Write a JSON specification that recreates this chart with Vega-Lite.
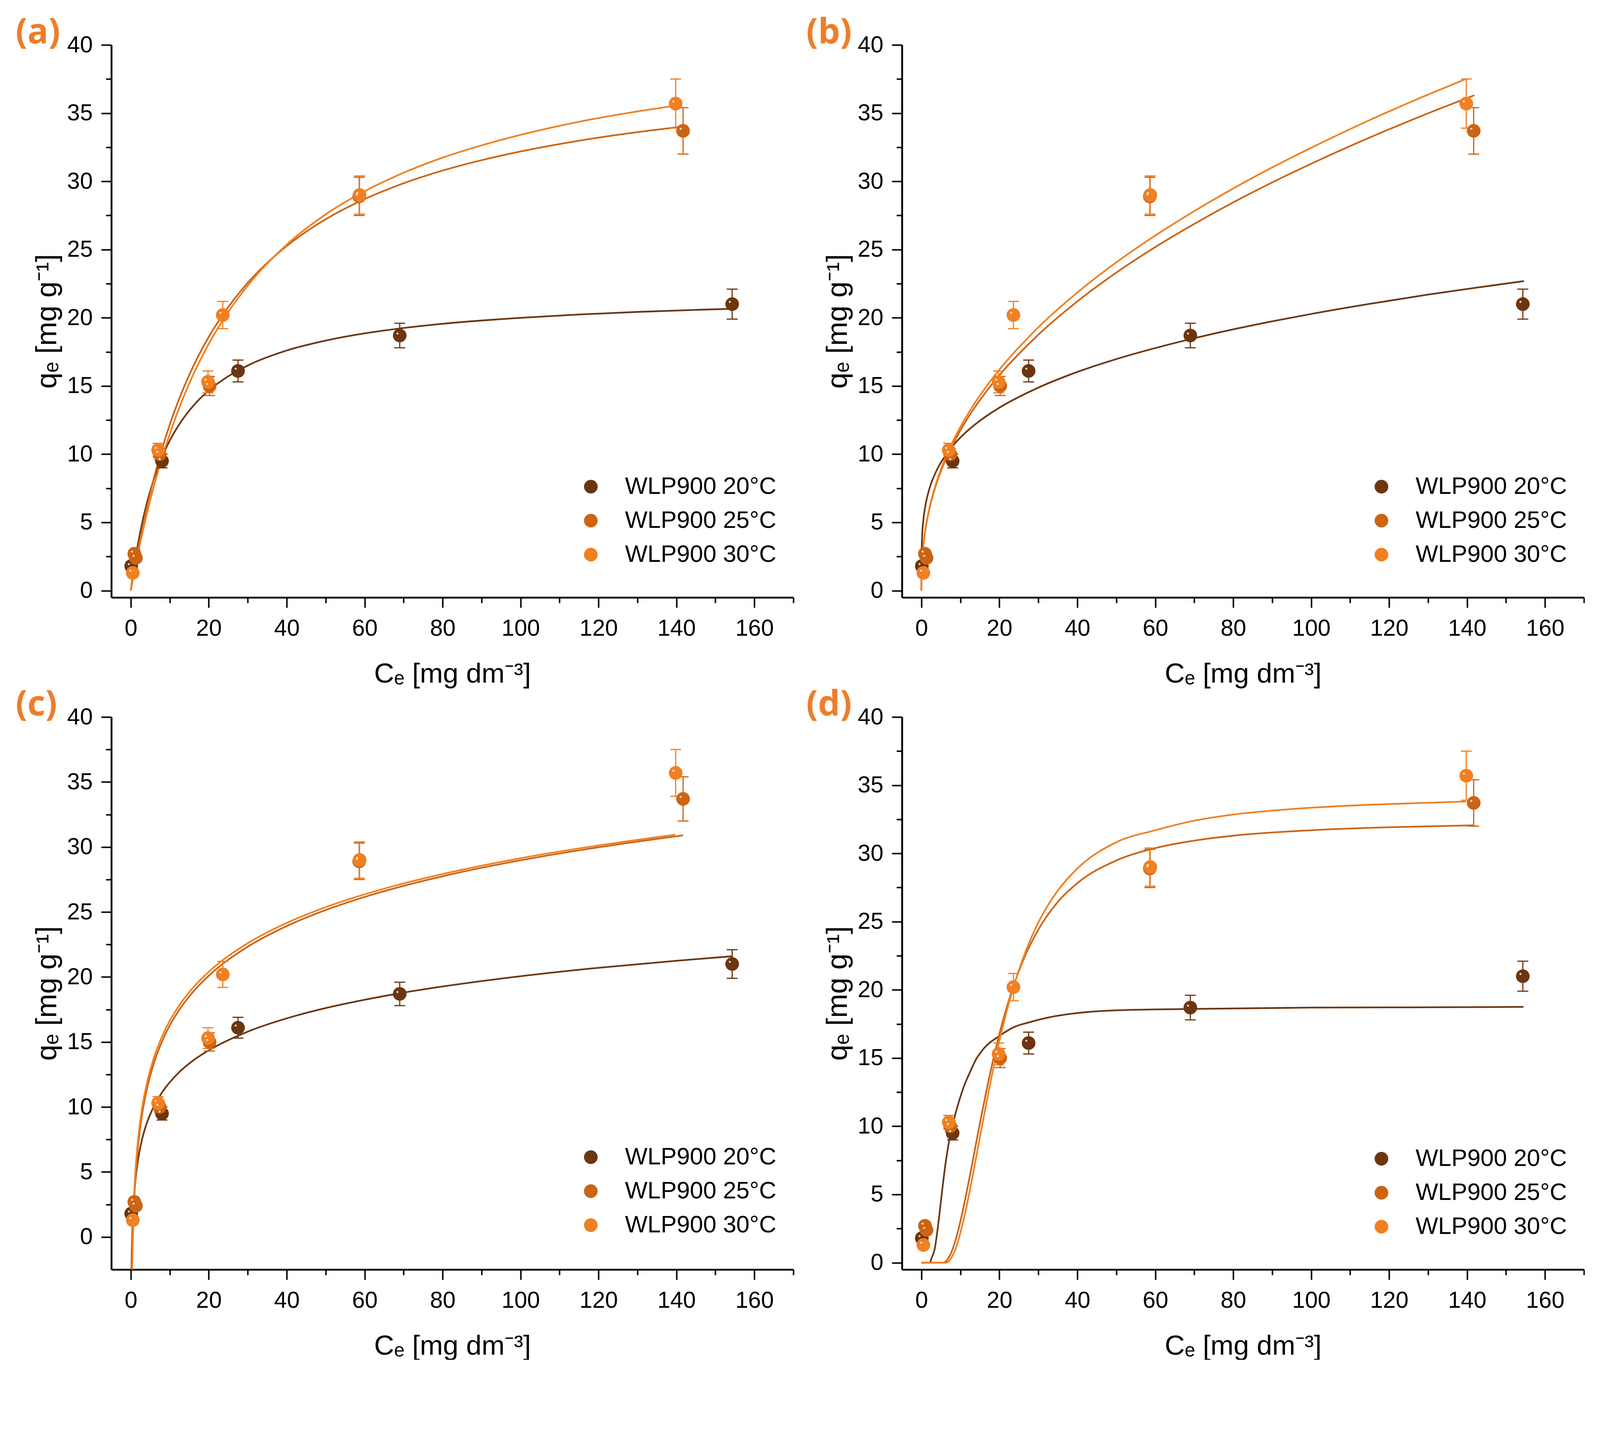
{
  "$schema": "https://vega.github.io/schema/vega-lite/v6.json",
  "background": "white",
  "padding": {"left": 40, "top": 40, "right": 0, "bottom": 0},
  "autosize": {"type": "pad"},
  "datasets": {
    "pts": [
      {"s": "20", "x": 0.1, "q": 1.8, "lo": 1.5, "hi": 2.1},
      {"s": "20", "x": 8.0, "q": 9.5, "lo": 9.0, "hi": 10.0},
      {"s": "20", "x": 27.5, "q": 16.1, "lo": 15.3, "hi": 16.9},
      {"s": "20", "x": 69.0, "q": 18.7, "lo": 17.8, "hi": 19.6},
      {"s": "20", "x": 154.3, "q": 21.0, "lo": 19.9, "hi": 22.1},
      {"s": "25", "x": 0.9, "q": 2.7, "lo": 2.4, "hi": 3.0},
      {"s": "25", "x": 1.3, "q": 2.4, "lo": 2.1, "hi": 2.7},
      {"s": "25", "x": 7.4, "q": 10.0, "lo": 9.6, "hi": 10.4},
      {"s": "25", "x": 20.2, "q": 15.0, "lo": 14.3, "hi": 15.7},
      {"s": "25", "x": 58.6, "q": 28.9, "lo": 27.5, "hi": 30.3},
      {"s": "25", "x": 141.7, "q": 33.7, "lo": 32.0, "hi": 35.4},
      {"s": "30", "x": 0.5, "q": 1.3, "lo": 1.0, "hi": 1.6},
      {"s": "30", "x": 7.0, "q": 10.3, "lo": 9.8, "hi": 10.8},
      {"s": "30", "x": 19.8, "q": 15.3, "lo": 14.5, "hi": 16.1},
      {"s": "30", "x": 23.6, "q": 20.2, "lo": 19.2, "hi": 21.2},
      {"s": "30", "x": 58.7, "q": 29.0, "lo": 27.6, "hi": 30.4},
      {"s": "30", "x": 139.8, "q": 35.7, "lo": 33.9, "hi": 37.5}
    ],
    "fits": [
      {"p": "a", "s": "20", "x": 0, "q": 0}, {"p": "a", "s": "20", "x": 0.5, "q": 1.05}, {"p": "a", "s": "20", "x": 1, "q": 2.0}, {"p": "a", "s": "20", "x": 2, "q": 3.67}, {"p": "a", "s": "20", "x": 3, "q": 5.08}, {"p": "a", "s": "20", "x": 4, "q": 6.29}, {"p": "a", "s": "20", "x": 6, "q": 8.25}, {"p": "a", "s": "20", "x": 8, "q": 9.78}, {"p": "a", "s": "20", "x": 10, "q": 11.0}, {"p": "a", "s": "20", "x": 13, "q": 12.43}, {"p": "a", "s": "20", "x": 16, "q": 13.54}, {"p": "a", "s": "20", "x": 20, "q": 14.67}, {"p": "a", "s": "20", "x": 25, "q": 15.71}, {"p": "a", "s": "20", "x": 30, "q": 16.5}, {"p": "a", "s": "20", "x": 40, "q": 17.6}, {"p": "a", "s": "20", "x": 50, "q": 18.33}, {"p": "a", "s": "20", "x": 60, "q": 18.86}, {"p": "a", "s": "20", "x": 70, "q": 19.25}, {"p": "a", "s": "20", "x": 80, "q": 19.56}, {"p": "a", "s": "20", "x": 90, "q": 19.8}, {"p": "a", "s": "20", "x": 100, "q": 20.0}, {"p": "a", "s": "20", "x": 115, "q": 20.24}, {"p": "a", "s": "20", "x": 130, "q": 20.43}, {"p": "a", "s": "20", "x": 145, "q": 20.58}, {"p": "a", "s": "20", "x": 154.3, "q": 20.66},
      {"p": "a", "s": "25", "x": 0, "q": 0}, {"p": "a", "s": "25", "x": 0.5, "q": 0.86}, {"p": "a", "s": "25", "x": 1, "q": 1.69}, {"p": "a", "s": "25", "x": 2, "q": 3.23}, {"p": "a", "s": "25", "x": 4, "q": 5.97}, {"p": "a", "s": "25", "x": 6, "q": 8.33}, {"p": "a", "s": "25", "x": 8, "q": 10.37}, {"p": "a", "s": "25", "x": 10, "q": 12.17}, {"p": "a", "s": "25", "x": 13, "q": 14.48}, {"p": "a", "s": "25", "x": 16, "q": 16.43}, {"p": "a", "s": "25", "x": 20, "q": 18.6}, {"p": "a", "s": "25", "x": 25, "q": 20.78}, {"p": "a", "s": "25", "x": 30, "q": 22.57}, {"p": "a", "s": "25", "x": 40, "q": 25.26}, {"p": "a", "s": "25", "x": 50, "q": 27.22}, {"p": "a", "s": "25", "x": 60, "q": 28.7}, {"p": "a", "s": "25", "x": 70, "q": 29.86}, {"p": "a", "s": "25", "x": 80, "q": 30.79}, {"p": "a", "s": "25", "x": 90, "q": 31.55}, {"p": "a", "s": "25", "x": 100, "q": 32.19}, {"p": "a", "s": "25", "x": 115, "q": 32.98}, {"p": "a", "s": "25", "x": 130, "q": 33.61}, {"p": "a", "s": "25", "x": 141.7, "q": 34.02},
      {"p": "a", "s": "30", "x": 0, "q": 0}, {"p": "a", "s": "30", "x": 0.5, "q": 0.77}, {"p": "a", "s": "30", "x": 1, "q": 1.52}, {"p": "a", "s": "30", "x": 2, "q": 2.94}, {"p": "a", "s": "30", "x": 4, "q": 5.49}, {"p": "a", "s": "30", "x": 6, "q": 7.74}, {"p": "a", "s": "30", "x": 8, "q": 9.72}, {"p": "a", "s": "30", "x": 10, "q": 11.49}, {"p": "a", "s": "30", "x": 13, "q": 13.82}, {"p": "a", "s": "30", "x": 16, "q": 15.82}, {"p": "a", "s": "30", "x": 20, "q": 18.09}, {"p": "a", "s": "30", "x": 25, "q": 20.43}, {"p": "a", "s": "30", "x": 30, "q": 22.36}, {"p": "a", "s": "30", "x": 40, "q": 25.36}, {"p": "a", "s": "30", "x": 50, "q": 27.58}, {"p": "a", "s": "30", "x": 60, "q": 29.28}, {"p": "a", "s": "30", "x": 70, "q": 30.63}, {"p": "a", "s": "30", "x": 80, "q": 31.74}, {"p": "a", "s": "30", "x": 90, "q": 32.64}, {"p": "a", "s": "30", "x": 100, "q": 33.41}, {"p": "a", "s": "30", "x": 115, "q": 34.37}, {"p": "a", "s": "30", "x": 130, "q": 35.13}, {"p": "a", "s": "30", "x": 139.8, "q": 35.56},

      {"p": "b", "s": "20", "x": 0, "q": 0}, {"p": "b", "s": "20", "x": 0.01, "q": 1.9}, {"p": "b", "s": "20", "x": 0.05, "q": 2.88}, {"p": "b", "s": "20", "x": 0.2, "q": 4.11}, {"p": "b", "s": "20", "x": 0.5, "q": 5.2}, {"p": "b", "s": "20", "x": 1, "q": 6.21}, {"p": "b", "s": "20", "x": 2, "q": 7.42}, {"p": "b", "s": "20", "x": 4, "q": 8.87}, {"p": "b", "s": "20", "x": 6, "q": 9.84}, {"p": "b", "s": "20", "x": 8, "q": 10.6}, {"p": "b", "s": "20", "x": 12, "q": 11.76}, {"p": "b", "s": "20", "x": 16, "q": 12.66}, {"p": "b", "s": "20", "x": 20, "q": 13.41}, {"p": "b", "s": "20", "x": 30, "q": 14.88}, {"p": "b", "s": "20", "x": 40, "q": 16.03}, {"p": "b", "s": "20", "x": 50, "q": 16.97}, {"p": "b", "s": "20", "x": 60, "q": 17.78}, {"p": "b", "s": "20", "x": 70, "q": 18.5}, {"p": "b", "s": "20", "x": 80, "q": 19.15}, {"p": "b", "s": "20", "x": 90, "q": 19.74}, {"p": "b", "s": "20", "x": 100, "q": 20.28}, {"p": "b", "s": "20", "x": 115, "q": 21.02}, {"p": "b", "s": "20", "x": 130, "q": 21.7}, {"p": "b", "s": "20", "x": 145, "q": 22.31}, {"p": "b", "s": "20", "x": 154.6, "q": 22.69},
      {"p": "b", "s": "25", "x": 0, "q": 0}, {"p": "b", "s": "25", "x": 0.01, "q": 0.62}, {"p": "b", "s": "25", "x": 0.05, "q": 1.24}, {"p": "b", "s": "25", "x": 0.2, "q": 2.23}, {"p": "b", "s": "25", "x": 0.5, "q": 3.29}, {"p": "b", "s": "25", "x": 1, "q": 4.42}, {"p": "b", "s": "25", "x": 2, "q": 5.93}, {"p": "b", "s": "25", "x": 4, "q": 7.97}, {"p": "b", "s": "25", "x": 6, "q": 9.47}, {"p": "b", "s": "25", "x": 8, "q": 10.69}, {"p": "b", "s": "25", "x": 12, "q": 12.71}, {"p": "b", "s": "25", "x": 16, "q": 14.36}, {"p": "b", "s": "25", "x": 20, "q": 15.79}, {"p": "b", "s": "25", "x": 30, "q": 18.76}, {"p": "b", "s": "25", "x": 40, "q": 21.2}, {"p": "b", "s": "25", "x": 50, "q": 23.31}, {"p": "b", "s": "25", "x": 60, "q": 25.18}, {"p": "b", "s": "25", "x": 70, "q": 26.88}, {"p": "b", "s": "25", "x": 80, "q": 28.46}, {"p": "b", "s": "25", "x": 90, "q": 29.92}, {"p": "b", "s": "25", "x": 100, "q": 31.29}, {"p": "b", "s": "25", "x": 115, "q": 33.21}, {"p": "b", "s": "25", "x": 130, "q": 34.99}, {"p": "b", "s": "25", "x": 141.9, "q": 36.31},
      {"p": "b", "s": "30", "x": 0, "q": 0}, {"p": "b", "s": "30", "x": 0.01, "q": 0.61}, {"p": "b", "s": "30", "x": 0.05, "q": 1.22}, {"p": "b", "s": "30", "x": 0.2, "q": 2.22}, {"p": "b", "s": "30", "x": 0.5, "q": 3.29}, {"p": "b", "s": "30", "x": 1, "q": 4.44}, {"p": "b", "s": "30", "x": 2, "q": 5.99}, {"p": "b", "s": "30", "x": 4, "q": 8.08}, {"p": "b", "s": "30", "x": 6, "q": 9.63}, {"p": "b", "s": "30", "x": 8, "q": 10.9}, {"p": "b", "s": "30", "x": 12, "q": 12.99}, {"p": "b", "s": "30", "x": 16, "q": 14.71}, {"p": "b", "s": "30", "x": 20, "q": 16.2}, {"p": "b", "s": "30", "x": 30, "q": 19.3}, {"p": "b", "s": "30", "x": 40, "q": 21.85}, {"p": "b", "s": "30", "x": 50, "q": 24.06}, {"p": "b", "s": "30", "x": 60, "q": 26.03}, {"p": "b", "s": "30", "x": 70, "q": 27.82}, {"p": "b", "s": "30", "x": 80, "q": 29.48}, {"p": "b", "s": "30", "x": 90, "q": 31.02}, {"p": "b", "s": "30", "x": 100, "q": 32.46}, {"p": "b", "s": "30", "x": 115, "q": 34.49}, {"p": "b", "s": "30", "x": 130, "q": 36.36}, {"p": "b", "s": "30", "x": 139.7, "q": 37.5},

      {"p": "c", "s": "20", "x": 0.171, "q": -2.5}, {"p": "c", "s": "20", "x": 0.25, "q": -1.15}, {"p": "c", "s": "20", "x": 0.4, "q": 0.52}, {"p": "c", "s": "20", "x": 0.6, "q": 1.95}, {"p": "c", "s": "20", "x": 1, "q": 3.76}, {"p": "c", "s": "20", "x": 1.5, "q": 5.2}, {"p": "c", "s": "20", "x": 2, "q": 6.21}, {"p": "c", "s": "20", "x": 3, "q": 7.65}, {"p": "c", "s": "20", "x": 4, "q": 8.67}, {"p": "c", "s": "20", "x": 6, "q": 10.1}, {"p": "c", "s": "20", "x": 8, "q": 11.12}, {"p": "c", "s": "20", "x": 12, "q": 12.56}, {"p": "c", "s": "20", "x": 16, "q": 13.58}, {"p": "c", "s": "20", "x": 20, "q": 14.36}, {"p": "c", "s": "20", "x": 30, "q": 15.8}, {"p": "c", "s": "20", "x": 40, "q": 16.82}, {"p": "c", "s": "20", "x": 50, "q": 17.61}, {"p": "c", "s": "20", "x": 60, "q": 18.25}, {"p": "c", "s": "20", "x": 70, "q": 18.8}, {"p": "c", "s": "20", "x": 80, "q": 19.27}, {"p": "c", "s": "20", "x": 100, "q": 20.06}, {"p": "c", "s": "20", "x": 120, "q": 20.71}, {"p": "c", "s": "20", "x": 140, "q": 21.25}, {"p": "c", "s": "20", "x": 154.4, "q": 21.6},
      {"p": "c", "s": "25", "x": 0.334, "q": -2.5}, {"p": "c", "s": "25", "x": 0.5, "q": -0.27}, {"p": "c", "s": "25", "x": 0.7, "q": 1.59}, {"p": "c", "s": "25", "x": 1, "q": 3.56}, {"p": "c", "s": "25", "x": 1.5, "q": 5.8}, {"p": "c", "s": "25", "x": 2, "q": 7.39}, {"p": "c", "s": "25", "x": 3, "q": 9.62}, {"p": "c", "s": "25", "x": 4, "q": 11.21}, {"p": "c", "s": "25", "x": 6, "q": 13.45}, {"p": "c", "s": "25", "x": 8, "q": 15.04}, {"p": "c", "s": "25", "x": 12, "q": 17.28}, {"p": "c", "s": "25", "x": 16, "q": 18.87}, {"p": "c", "s": "25", "x": 20, "q": 20.1}, {"p": "c", "s": "25", "x": 30, "q": 22.33}, {"p": "c", "s": "25", "x": 40, "q": 23.92}, {"p": "c", "s": "25", "x": 50, "q": 25.15}, {"p": "c", "s": "25", "x": 60, "q": 26.16}, {"p": "c", "s": "25", "x": 70, "q": 27.01}, {"p": "c", "s": "25", "x": 80, "q": 27.75}, {"p": "c", "s": "25", "x": 100, "q": 28.98}, {"p": "c", "s": "25", "x": 120, "q": 29.98}, {"p": "c", "s": "25", "x": 141.7, "q": 30.9},
      {"p": "c", "s": "30", "x": 0.295, "q": -2.5}, {"p": "c", "s": "30", "x": 0.4, "q": -0.84}, {"p": "c", "s": "30", "x": 0.6, "q": 1.36}, {"p": "c", "s": "30", "x": 1, "q": 4.13}, {"p": "c", "s": "30", "x": 1.5, "q": 6.33}, {"p": "c", "s": "30", "x": 2, "q": 7.89}, {"p": "c", "s": "30", "x": 3, "q": 10.1}, {"p": "c", "s": "30", "x": 4, "q": 11.66}, {"p": "c", "s": "30", "x": 6, "q": 13.86}, {"p": "c", "s": "30", "x": 8, "q": 15.42}, {"p": "c", "s": "30", "x": 12, "q": 17.62}, {"p": "c", "s": "30", "x": 16, "q": 19.19}, {"p": "c", "s": "30", "x": 20, "q": 20.4}, {"p": "c", "s": "30", "x": 30, "q": 22.6}, {"p": "c", "s": "30", "x": 40, "q": 24.16}, {"p": "c", "s": "30", "x": 50, "q": 25.37}, {"p": "c", "s": "30", "x": 60, "q": 26.36}, {"p": "c", "s": "30", "x": 70, "q": 27.2}, {"p": "c", "s": "30", "x": 80, "q": 27.92}, {"p": "c", "s": "30", "x": 100, "q": 29.14}, {"p": "c", "s": "30", "x": 120, "q": 30.12}, {"p": "c", "s": "30", "x": 139.7, "q": 30.95},

      {"p": "d", "s": "20", "x": 0, "q": 0}, {"p": "d", "s": "20", "x": 2.2, "q": 0}, {"p": "d", "s": "20", "x": 2.5, "q": 0.26}, {"p": "d", "s": "20", "x": 3.4, "q": 1.0}, {"p": "d", "s": "20", "x": 4.3, "q": 2.8}, {"p": "d", "s": "20", "x": 5.1, "q": 4.75}, {"p": "d", "s": "20", "x": 6.1, "q": 7.1}, {"p": "d", "s": "20", "x": 7.0, "q": 8.75}, {"p": "d", "s": "20", "x": 8.0, "q": 10.1}, {"p": "d", "s": "20", "x": 9.5, "q": 11.7}, {"p": "d", "s": "20", "x": 11, "q": 13.0}, {"p": "d", "s": "20", "x": 12.2, "q": 13.8}, {"p": "d", "s": "20", "x": 14, "q": 14.9}, {"p": "d", "s": "20", "x": 16, "q": 15.7}, {"p": "d", "s": "20", "x": 19.9, "q": 16.6}, {"p": "d", "s": "20", "x": 24, "q": 17.3}, {"p": "d", "s": "20", "x": 27.4, "q": 17.6}, {"p": "d", "s": "20", "x": 33, "q": 18.0}, {"p": "d", "s": "20", "x": 40, "q": 18.3}, {"p": "d", "s": "20", "x": 50, "q": 18.5}, {"p": "d", "s": "20", "x": 69, "q": 18.6}, {"p": "d", "s": "20", "x": 100, "q": 18.7}, {"p": "d", "s": "20", "x": 130, "q": 18.72}, {"p": "d", "s": "20", "x": 154.5, "q": 18.75},
      {"p": "d", "s": "25", "x": 0, "q": 0}, {"p": "d", "s": "25", "x": 5.5, "q": 0}, {"p": "d", "s": "25", "x": 6.5, "q": 0.17}, {"p": "d", "s": "25", "x": 7.5, "q": 0.65}, {"p": "d", "s": "25", "x": 8.5, "q": 1.42}, {"p": "d", "s": "25", "x": 9.5, "q": 2.45}, {"p": "d", "s": "25", "x": 10.5, "q": 3.67}, {"p": "d", "s": "25", "x": 11.5, "q": 5.03}, {"p": "d", "s": "25", "x": 12.5, "q": 6.48}, {"p": "d", "s": "25", "x": 14, "q": 8.73}, {"p": "d", "s": "25", "x": 15.5, "q": 10.95}, {"p": "d", "s": "25", "x": 17, "q": 13.05}, {"p": "d", "s": "25", "x": 19, "q": 15.61}, {"p": "d", "s": "25", "x": 21, "q": 17.84}, {"p": "d", "s": "25", "x": 23.5, "q": 20.19}, {"p": "d", "s": "25", "x": 26, "q": 22.1}, {"p": "d", "s": "25", "x": 30, "q": 24.42}, {"p": "d", "s": "25", "x": 35, "q": 26.45}, {"p": "d", "s": "25", "x": 40, "q": 27.82}, {"p": "d", "s": "25", "x": 50, "q": 29.48}, {"p": "d", "s": "25", "x": 60, "q": 30.39}, {"p": "d", "s": "25", "x": 70, "q": 30.94}, {"p": "d", "s": "25", "x": 80, "q": 31.3}, {"p": "d", "s": "25", "x": 100, "q": 31.7}, {"p": "d", "s": "25", "x": 120, "q": 31.92}, {"p": "d", "s": "25", "x": 141.9, "q": 32.06},
      {"p": "d", "s": "30", "x": 0, "q": 0}, {"p": "d", "s": "30", "x": 6.2, "q": 0}, {"p": "d", "s": "30", "x": 7.2, "q": 0.16}, {"p": "d", "s": "30", "x": 8.2, "q": 0.64}, {"p": "d", "s": "30", "x": 9.2, "q": 1.4}, {"p": "d", "s": "30", "x": 10.2, "q": 2.42}, {"p": "d", "s": "30", "x": 11.2, "q": 3.63}, {"p": "d", "s": "30", "x": 12.2, "q": 5.0}, {"p": "d", "s": "30", "x": 13.2, "q": 6.47}, {"p": "d", "s": "30", "x": 14.7, "q": 8.75}, {"p": "d", "s": "30", "x": 16.2, "q": 11.02}, {"p": "d", "s": "30", "x": 17.7, "q": 13.21}, {"p": "d", "s": "30", "x": 19.7, "q": 15.88}, {"p": "d", "s": "30", "x": 21.7, "q": 18.24}, {"p": "d", "s": "30", "x": 23.7, "q": 20.28}, {"p": "d", "s": "30", "x": 26, "q": 22.26}, {"p": "d", "s": "30", "x": 30, "q": 24.94}, {"p": "d", "s": "30", "x": 35, "q": 27.28}, {"p": "d", "s": "30", "x": 40, "q": 28.89}, {"p": "d", "s": "30", "x": 50, "q": 30.82}, {"p": "d", "s": "30", "x": 60, "q": 31.7}, {"p": "d", "s": "30", "x": 70, "q": 32.4}, {"p": "d", "s": "30", "x": 80, "q": 32.85}, {"p": "d", "s": "30", "x": 100, "q": 33.35}, {"p": "d", "s": "30", "x": 120, "q": 33.62}, {"p": "d", "s": "30", "x": 139.7, "q": 33.8}
    ]
  },
  "columns": 2,
  "spacing": {"row": 306, "column": 278},
  "bounds": "flush",
  "concat": [
    {
      "title": "(a)",
      "width": 1746, "height": 1414,
      "encoding": {
        "x": {"field": "x", "type": "quantitative", "title": "Cₑ [mg dm⁻³]", "scale": {"domain": [-5, 170], "nice": false, "zero": false},
          "axis": {"values": [0, 10, 20, 30, 40, 50, 60, 70, 80, 90, 100, 110, 120, 130, 140, 150, 160, 170], "format": "d", "labelExpr": "datum.value % 20 === 0 ? datum.label : ''", "tickSize": {"condition": {"test": "datum.value % 20 === 0", "value": 26}, "value": 14}, "labelPadding": 24, "titlePadding": 52, "labelFlush": false, "labelOverlap": false}},
        "color": {"field": "s", "type": "nominal", "scale": {"domain": ["20", "25", "30"], "range": ["#6B3610", "#CC6414", "#F08022"]},
          "legend": {"title": null, "orient": "none", "legendX": 1197, "legendY": 1100, "padding": 0, "symbolType": "circle", "symbolSize": 1225, "symbolOpacity": 1, "symbolStrokeWidth": 0, "labelFont": "Liberation Sans", "labelFontSize": 61, "labelColor": "#000", "labelOffset": 57, "labelLimit": 1000, "rowPadding": 25, "labelExpr": "'WLP900 ' + datum.label + '°C'"}}
      },
      "layer": [
        {"data": {"name": "fits"}, "transform": [{"filter": "datum.p === 'a'"}],
          "mark": {"type": "line", "interpolate": "monotone", "strokeWidth": 4.3, "clip": true},
          "encoding": {
            "y": {"field": "q", "type": "quantitative", "title": "qₑ [mg g⁻¹]", "scale": {"domain": [-0.5, 40], "nice": false, "zero": false},
              "axis": {"values": [0, 2.5, 5, 7.5, 10, 12.5, 15, 17.5, 20, 22.5, 25, 27.5, 30, 32.5, 35, 37.5, 40], "format": "d", "labelExpr": "datum.value % 5 === 0 ? datum.label : ''", "tickSize": {"condition": {"test": "datum.value % 5 === 0", "value": 26}, "value": 14}, "labelPadding": 22, "titlePadding": 12, "labelFlush": false, "labelOverlap": false}}
          }},
        {"data": {"name": "pts"}, "mark": {"type": "rule", "strokeWidth": 3},
          "encoding": {
            "y": {"field": "lo", "type": "quantitative", "title": "qₑ [mg g⁻¹]", "scale": {"domain": [-0.5, 40], "nice": false, "zero": false}},
            "y2": {"field": "hi"}
          }},
        {"data": {"name": "pts"}, "transform": [{"fold": ["lo", "hi"], "as": ["k", "v"]}],
          "mark": {"type": "tick", "orient": "horizontal", "size": 28, "thickness": 3, "opacity": 1},
          "encoding": {
            "y": {"field": "v", "type": "quantitative", "title": "qₑ [mg g⁻¹]", "scale": {"domain": [-0.5, 40], "nice": false, "zero": false}}
          }},
        {"data": {"name": "pts"}, "mark": {"type": "point", "filled": true, "size": 1225, "opacity": 1},
          "encoding": {
            "y": {"field": "q", "type": "quantitative", "title": "qₑ [mg g⁻¹]", "scale": {"domain": [-0.5, 40], "nice": false, "zero": false}}
          }},
        {"data": {"name": "pts"}, "mark": {"type": "text", "text": "●", "fontSize": 12, "dx": -6, "dy": -6, "fill": "#ffffff", "opacity": 0.8},
          "encoding": {
            "y": {"field": "q", "type": "quantitative", "title": "qₑ [mg g⁻¹]", "scale": {"domain": [-0.5, 40], "nice": false, "zero": false}},
            "color": {"value": "#ffffff"}
          }}
      ]
    },
    {
      "title": "(b)",
      "width": 1746, "height": 1414,
      "encoding": {
        "x": {"field": "x", "type": "quantitative", "title": "Cₑ [mg dm⁻³]", "scale": {"domain": [-5, 170], "nice": false, "zero": false},
          "axis": {"values": [0, 10, 20, 30, 40, 50, 60, 70, 80, 90, 100, 110, 120, 130, 140, 150, 160, 170], "format": "d", "labelExpr": "datum.value % 20 === 0 ? datum.label : ''", "tickSize": {"condition": {"test": "datum.value % 20 === 0", "value": 26}, "value": 14}, "labelPadding": 24, "titlePadding": 52, "labelFlush": false, "labelOverlap": false}},
        "color": {"field": "s", "type": "nominal", "scale": {"domain": ["20", "25", "30"], "range": ["#6B3610", "#CC6414", "#F08022"]},
          "legend": {"title": null, "orient": "none", "legendX": 1197, "legendY": 1100, "padding": 0, "symbolType": "circle", "symbolSize": 1225, "symbolOpacity": 1, "symbolStrokeWidth": 0, "labelFont": "Liberation Sans", "labelFontSize": 61, "labelColor": "#000", "labelOffset": 57, "labelLimit": 1000, "rowPadding": 25, "labelExpr": "'WLP900 ' + datum.label + '°C'"}}
      },
      "layer": [
        {"data": {"name": "fits"}, "transform": [{"filter": "datum.p === 'b'"}],
          "mark": {"type": "line", "interpolate": "monotone", "strokeWidth": 4.3, "clip": true},
          "encoding": {
            "y": {"field": "q", "type": "quantitative", "title": "qₑ [mg g⁻¹]", "scale": {"domain": [-0.5, 40], "nice": false, "zero": false},
              "axis": {"values": [0, 2.5, 5, 7.5, 10, 12.5, 15, 17.5, 20, 22.5, 25, 27.5, 30, 32.5, 35, 37.5, 40], "format": "d", "labelExpr": "datum.value % 5 === 0 ? datum.label : ''", "tickSize": {"condition": {"test": "datum.value % 5 === 0", "value": 26}, "value": 14}, "labelPadding": 22, "titlePadding": 12, "labelFlush": false, "labelOverlap": false}}
          }},
        {"data": {"name": "pts"}, "mark": {"type": "rule", "strokeWidth": 3},
          "encoding": {
            "y": {"field": "lo", "type": "quantitative", "title": "qₑ [mg g⁻¹]", "scale": {"domain": [-0.5, 40], "nice": false, "zero": false}},
            "y2": {"field": "hi"}
          }},
        {"data": {"name": "pts"}, "transform": [{"fold": ["lo", "hi"], "as": ["k", "v"]}],
          "mark": {"type": "tick", "orient": "horizontal", "size": 28, "thickness": 3, "opacity": 1},
          "encoding": {
            "y": {"field": "v", "type": "quantitative", "title": "qₑ [mg g⁻¹]", "scale": {"domain": [-0.5, 40], "nice": false, "zero": false}}
          }},
        {"data": {"name": "pts"}, "mark": {"type": "point", "filled": true, "size": 1225, "opacity": 1},
          "encoding": {
            "y": {"field": "q", "type": "quantitative", "title": "qₑ [mg g⁻¹]", "scale": {"domain": [-0.5, 40], "nice": false, "zero": false}}
          }},
        {"data": {"name": "pts"}, "mark": {"type": "text", "text": "●", "fontSize": 12, "dx": -6, "dy": -6, "fill": "#ffffff", "opacity": 0.8},
          "encoding": {
            "y": {"field": "q", "type": "quantitative", "title": "qₑ [mg g⁻¹]", "scale": {"domain": [-0.5, 40], "nice": false, "zero": false}},
            "color": {"value": "#ffffff"}
          }}
      ]
    },
    {
      "title": "(c)",
      "width": 1746, "height": 1414,
      "encoding": {
        "x": {"field": "x", "type": "quantitative", "title": "Cₑ [mg dm⁻³]", "scale": {"domain": [-5, 170], "nice": false, "zero": false},
          "axis": {"values": [0, 10, 20, 30, 40, 50, 60, 70, 80, 90, 100, 110, 120, 130, 140, 150, 160, 170], "format": "d", "labelExpr": "datum.value % 20 === 0 ? datum.label : ''", "tickSize": {"condition": {"test": "datum.value % 20 === 0", "value": 26}, "value": 14}, "labelPadding": 24, "titlePadding": 52, "labelFlush": false, "labelOverlap": false}},
        "color": {"field": "s", "type": "nominal", "scale": {"domain": ["20", "25", "30"], "range": ["#6B3610", "#CC6414", "#F08022"]},
          "legend": {"title": null, "orient": "none", "legendX": 1197, "legendY": 1096, "padding": 0, "symbolType": "circle", "symbolSize": 1225, "symbolOpacity": 1, "symbolStrokeWidth": 0, "labelFont": "Liberation Sans", "labelFontSize": 61, "labelColor": "#000", "labelOffset": 57, "labelLimit": 1000, "rowPadding": 25, "labelExpr": "'WLP900 ' + datum.label + '°C'"}}
      },
      "layer": [
        {"data": {"name": "fits"}, "transform": [{"filter": "datum.p === 'c'"}],
          "mark": {"type": "line", "interpolate": "monotone", "strokeWidth": 4.3, "clip": true},
          "encoding": {
            "y": {"field": "q", "type": "quantitative", "title": "qₑ [mg g⁻¹]", "scale": {"domain": [-2.5, 40], "nice": false, "zero": false},
              "axis": {"values": [0, 2.5, 5, 7.5, 10, 12.5, 15, 17.5, 20, 22.5, 25, 27.5, 30, 32.5, 35, 37.5, 40], "format": "d", "labelExpr": "datum.value % 5 === 0 ? datum.label : ''", "tickSize": {"condition": {"test": "datum.value % 5 === 0", "value": 26}, "value": 14}, "labelPadding": 22, "titlePadding": 12, "labelFlush": false, "labelOverlap": false}}
          }},
        {"data": {"name": "pts"}, "mark": {"type": "rule", "strokeWidth": 3},
          "encoding": {
            "y": {"field": "lo", "type": "quantitative", "title": "qₑ [mg g⁻¹]", "scale": {"domain": [-2.5, 40], "nice": false, "zero": false}},
            "y2": {"field": "hi"}
          }},
        {"data": {"name": "pts"}, "transform": [{"fold": ["lo", "hi"], "as": ["k", "v"]}],
          "mark": {"type": "tick", "orient": "horizontal", "size": 28, "thickness": 3, "opacity": 1},
          "encoding": {
            "y": {"field": "v", "type": "quantitative", "title": "qₑ [mg g⁻¹]", "scale": {"domain": [-2.5, 40], "nice": false, "zero": false}}
          }},
        {"data": {"name": "pts"}, "mark": {"type": "point", "filled": true, "size": 1225, "opacity": 1},
          "encoding": {
            "y": {"field": "q", "type": "quantitative", "title": "qₑ [mg g⁻¹]", "scale": {"domain": [-2.5, 40], "nice": false, "zero": false}}
          }},
        {"data": {"name": "pts"}, "mark": {"type": "text", "text": "●", "fontSize": 12, "dx": -6, "dy": -6, "fill": "#ffffff", "opacity": 0.8},
          "encoding": {
            "y": {"field": "q", "type": "quantitative", "title": "qₑ [mg g⁻¹]", "scale": {"domain": [-2.5, 40], "nice": false, "zero": false}},
            "color": {"value": "#ffffff"}
          }}
      ]
    },
    {
      "title": "(d)",
      "width": 1746, "height": 1414,
      "encoding": {
        "x": {"field": "x", "type": "quantitative", "title": "Cₑ [mg dm⁻³]", "scale": {"domain": [-5, 170], "nice": false, "zero": false},
          "axis": {"values": [0, 10, 20, 30, 40, 50, 60, 70, 80, 90, 100, 110, 120, 130, 140, 150, 160, 170], "format": "d", "labelExpr": "datum.value % 20 === 0 ? datum.label : ''", "tickSize": {"condition": {"test": "datum.value % 20 === 0", "value": 26}, "value": 14}, "labelPadding": 24, "titlePadding": 52, "labelFlush": false, "labelOverlap": false}},
        "color": {"field": "s", "type": "nominal", "scale": {"domain": ["20", "25", "30"], "range": ["#6B3610", "#CC6414", "#F08022"]},
          "legend": {"title": null, "orient": "none", "legendX": 1197, "legendY": 1100, "padding": 0, "symbolType": "circle", "symbolSize": 1225, "symbolOpacity": 1, "symbolStrokeWidth": 0, "labelFont": "Liberation Sans", "labelFontSize": 61, "labelColor": "#000", "labelOffset": 57, "labelLimit": 1000, "rowPadding": 25, "labelExpr": "'WLP900 ' + datum.label + '°C'"}}
      },
      "layer": [
        {"data": {"name": "fits"}, "transform": [{"filter": "datum.p === 'd'"}],
          "mark": {"type": "line", "interpolate": "monotone", "strokeWidth": 4.3, "clip": true},
          "encoding": {
            "y": {"field": "q", "type": "quantitative", "title": "qₑ [mg g⁻¹]", "scale": {"domain": [-0.5, 40], "nice": false, "zero": false},
              "axis": {"values": [0, 2.5, 5, 7.5, 10, 12.5, 15, 17.5, 20, 22.5, 25, 27.5, 30, 32.5, 35, 37.5, 40], "format": "d", "labelExpr": "datum.value % 5 === 0 ? datum.label : ''", "tickSize": {"condition": {"test": "datum.value % 5 === 0", "value": 26}, "value": 14}, "labelPadding": 22, "titlePadding": 12, "labelFlush": false, "labelOverlap": false}}
          }},
        {"data": {"name": "pts"}, "mark": {"type": "rule", "strokeWidth": 3},
          "encoding": {
            "y": {"field": "lo", "type": "quantitative", "title": "qₑ [mg g⁻¹]", "scale": {"domain": [-0.5, 40], "nice": false, "zero": false}},
            "y2": {"field": "hi"}
          }},
        {"data": {"name": "pts"}, "transform": [{"fold": ["lo", "hi"], "as": ["k", "v"]}],
          "mark": {"type": "tick", "orient": "horizontal", "size": 28, "thickness": 3, "opacity": 1},
          "encoding": {
            "y": {"field": "v", "type": "quantitative", "title": "qₑ [mg g⁻¹]", "scale": {"domain": [-0.5, 40], "nice": false, "zero": false}}
          }},
        {"data": {"name": "pts"}, "mark": {"type": "point", "filled": true, "size": 1225, "opacity": 1},
          "encoding": {
            "y": {"field": "q", "type": "quantitative", "title": "qₑ [mg g⁻¹]", "scale": {"domain": [-0.5, 40], "nice": false, "zero": false}}
          }},
        {"data": {"name": "pts"}, "mark": {"type": "text", "text": "●", "fontSize": 12, "dx": -6, "dy": -6, "fill": "#ffffff", "opacity": 0.8},
          "encoding": {
            "y": {"field": "q", "type": "quantitative", "title": "qₑ [mg g⁻¹]", "scale": {"domain": [-0.5, 40], "nice": false, "zero": false}},
            "color": {"value": "#ffffff"}
          }}
      ]
    }
  ],
  "resolve": {
    "scale": {"x": "independent", "y": "independent", "color": "independent"},
    "axis": {"x": "independent", "y": "independent"},
    "legend": {"color": "independent"}
  },
  "config": {
    "view": {"stroke": null},
    "axis": {"grid": false, "domainColor": "#000000", "domainWidth": 4.7, "tickColor": "#000000", "tickWidth": 3.8, "labelFont": "Liberation Sans", "labelFontSize": 59, "labelColor": "#000000", "titleFont": "Liberation Sans", "titleFontWeight": "normal", "titleColor": "#000000"},
    "axisX": {"titleFontSize": 71},
    "axisY": {"titleFontSize": 74},
    "title": {"font": "Open Sans", "fontSize": 89, "fontWeight": "bold", "color": "#EE7D2B", "anchor": "start", "frame": "group", "dx": -245, "offset": -44, "baseline": "alphabetic"}
  }
}
